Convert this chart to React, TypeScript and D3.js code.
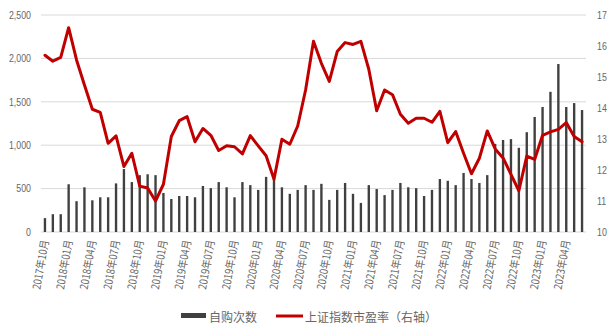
import React from "react";
import * as d3 from "d3";

const months: string[] = [
  "2017年10月","2017年11月","2017年12月",
  "2018年01月","2018年02月","2018年03月","2018年04月","2018年05月","2018年06月","2018年07月","2018年08月","2018年09月","2018年10月","2018年11月","2018年12月",
  "2019年01月","2019年02月","2019年03月","2019年04月","2019年05月","2019年06月","2019年07月","2019年08月","2019年09月","2019年10月","2019年11月","2019年12月",
  "2020年01月","2020年02月","2020年03月","2020年04月","2020年05月","2020年06月","2020年07月","2020年08月","2020年09月","2020年10月","2020年11月","2020年12月",
  "2021年01月","2021年02月","2021年03月","2021年04月","2021年05月","2021年06月","2021年07月","2021年08月","2021年09月","2021年10月","2021年11月","2021年12月",
  "2022年01月","2022年02月","2022年03月","2022年04月","2022年05月","2022年06月","2022年07月","2022年08月","2022年09月","2022年10月","2022年11月","2022年12月",
  "2023年01月","2023年02月","2023年03月","2023年04月","2023年05月","2023年06月",
];

const tickLabels: string[] = [
  "2017年10月","2018年01月","2018年04月","2018年07月","2018年10月",
  "2019年01月","2019年04月","2019年07月","2019年10月",
  "2020年01月","2020年04月","2020年07月","2020年10月",
  "2021年01月","2021年04月","2021年07月","2021年10月",
  "2022年01月","2022年04月","2022年07月","2022年10月",
  "2023年01月","2023年04月",
];

const buybacks: number[] = [
  160, 205, 205, 550, 355, 515, 365, 400, 400, 560, 725, 575, 655, 665, 655,
  450, 380, 415, 415, 400, 530, 505, 575, 515, 400, 575, 540,
  485, 635, 610, 515, 440, 485, 540, 485, 555, 370, 485, 565,
  440, 335, 540, 495, 425, 485, 565, 515, 505, 415, 485, 610,
  590, 540, 680, 610, 565, 655, 1015, 1060, 1070, 970, 1150, 1325,
  1440, 1615, 1935, 1440, 1485, 1405,
];

const peRatio: number[] = [
  15.70, 15.51, 15.63, 16.59, 15.55, 14.74, 13.96, 13.86, 12.86, 13.10, 12.11, 12.54, 11.48, 11.42, 11.00,
  11.54, 13.08, 13.59, 13.72, 12.91, 13.34, 13.12, 12.63, 12.78, 12.75, 12.52, 13.11,
  12.78, 12.46, 11.70, 12.99, 12.83, 13.42, 14.58, 16.15, 15.44, 14.86, 15.82, 16.11,
  16.05, 16.15, 15.25, 13.91, 14.58, 14.43, 13.80, 13.51, 13.67, 13.67, 13.54, 13.89,
  12.88, 13.24, 12.54, 11.88, 12.38, 13.26, 12.68, 12.39, 11.86, 11.33, 12.45, 12.34,
  13.12, 13.23, 13.31, 13.53, 13.08, 12.91,
];

const leftTicks: number[] = [0, 500, 1000, 1500, 2000, 2500];
const rightTicks: number[] = [10, 11, 12, 13, 14, 15, 16, 17];

const legendBar = "自购次数";
const legendLine = "上证指数市盈率（右轴）";

const W = 613;
const H = 334;
const plotLeft = 41;
const plotRight = 586;
const plotTop = 15;
const plotBottom = 232;

export default function App() {
  const x = d3.scaleBand<string>().domain(months).range([plotLeft, plotRight]).paddingInner(0.7).paddingOuter(0.35);
  const yL = d3.scaleLinear().domain([0, 2500]).range([plotBottom, plotTop]);
  const yR = d3.scaleLinear().domain([10, 17]).range([plotBottom, plotTop]);
  const cx = (m: string) => (x(m) as number) + x.bandwidth() / 2;

  const line = d3
    .line<number>()
    .x((_, i) => cx(months[i]))
    .y((d) => yR(d));

  const numFont = "'Liberation Sans', Arial, sans-serif";
  const cjkFont = "'Noto Sans CJK SC', 'Microsoft YaHei', sans-serif";
  const textColor = "#666666";

  return (
    <svg
      width={W}
      height={H}
      style={{ position: "absolute", left: 0, top: 0, background: "#fff" }}
    >
      {leftTicks.map((t) => (
        <line key={"g" + t} x1={plotLeft} x2={plotRight} y1={yL(t)} y2={yL(t)} stroke="#d9d9d9" strokeWidth={1} />
      ))}
      {leftTicks.map((t) => (
        <text
          key={"l" + t}
          transform={`translate(31,${yL(t)}) scale(0.8,1)`}
          textAnchor="end"
          dominantBaseline="central"
          fontFamily={numFont}
          fontSize={11}
          fill={textColor}
        >
          {d3.format(",")(t)}
        </text>
      ))}
      {rightTicks.map((t) => (
        <text
          key={"r" + t}
          transform={`translate(597,${yR(t)}) scale(0.8,1)`}
          textAnchor="start"
          dominantBaseline="central"
          fontFamily={numFont}
          fontSize={11}
          fill={textColor}
        >
          {t}
        </text>
      ))}
      {months.map((m, i) => (
        <rect
          key={"b" + m}
          x={x(m)}
          y={yL(buybacks[i])}
          width={x.bandwidth()}
          height={plotBottom - yL(buybacks[i])}
          fill="#404040"
        />
      ))}
      <path d={line(peRatio) || ""} fill="none" stroke="#C00000" strokeWidth={3} strokeLinejoin="round" strokeLinecap="round" />
      {tickLabels.map((lab) => (
        <text
          key={"x" + lab}
          transform={`translate(${cx(lab) - 1},240) rotate(-80)`}
          textAnchor="end"
          dominantBaseline="central"
          fontFamily={cjkFont}
          fontSize={11}
          textLength={50}
          lengthAdjust="spacingAndGlyphs"
          fill={textColor}
        >
          {lab}
        </text>
      ))}
      <rect x={181} y={313} width={25} height={5} fill="#404040" />
      <text x={209} y={316} dominantBaseline="central" fontFamily={cjkFont} fontSize={12} fill={textColor}>
        {legendBar}
      </text>
      <line x1={276} x2={303} y1={316} y2={316} stroke="#C00000" strokeWidth={3} />
      <text x={305} y={316} dominantBaseline="central" fontFamily={cjkFont} fontSize={12} fill={textColor}>
        {legendLine}
      </text>
    </svg>
  );
}
